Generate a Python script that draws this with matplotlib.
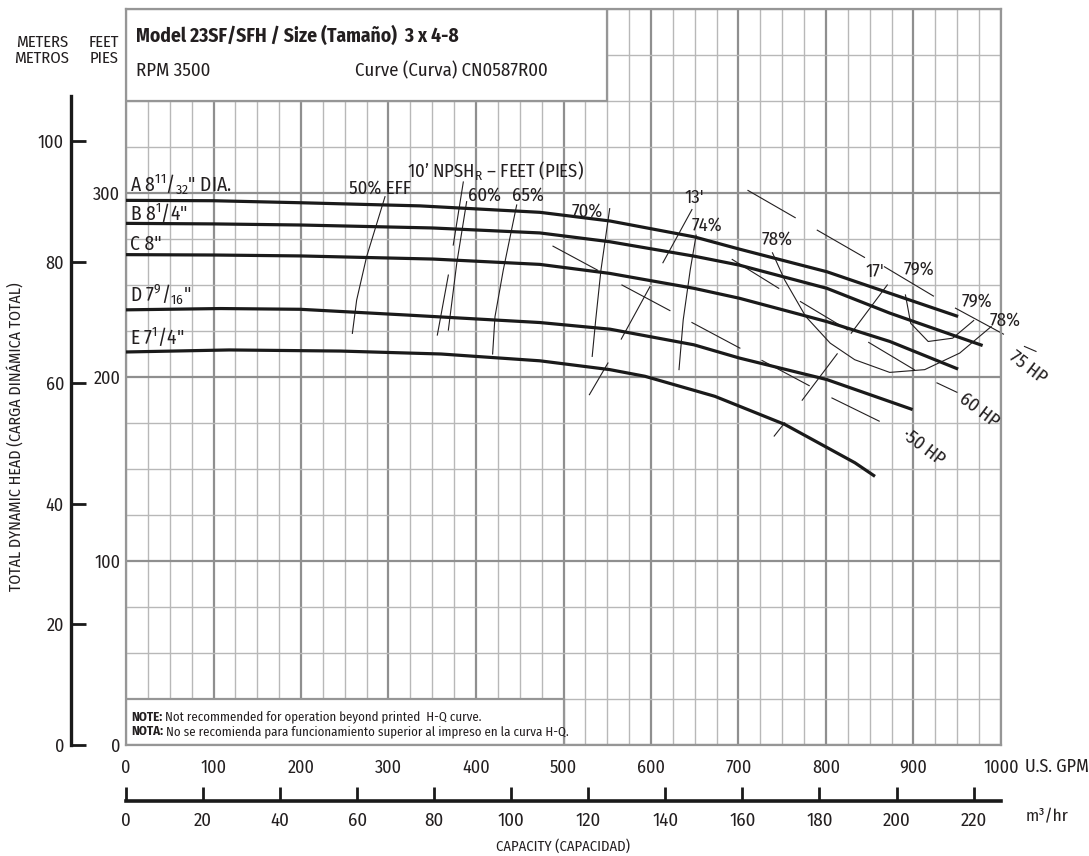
import matplotlib.pyplot as plt
import numpy as np
from matplotlib.patches import Rectangle

plt.rcParams['font.family'] = ['Fira Sans Condensed', 'DejaVu Sans']
plt.rcParams['font.stretch'] = 'condensed'
plt.rcParams['mathtext.fontset'] = 'custom'
plt.rcParams['mathtext.rm'] = 'Fira Sans Condensed'
plt.rcParams['mathtext.it'] = 'Fira Sans Condensed'
plt.rcParams['mathtext.bf'] = 'Fira Sans Condensed:bold'
plt.rcParams['mathtext.default'] = 'rm'

INK = '#231f20'

# --- impeller H-Q curves (GPM, feet) ---
gpm_A = [0, 100, 200, 336, 473, 553, 649, 701, 801, 873, 951]
ft_A = [296, 295.8, 294.7, 293, 289.5, 284.8, 276.2, 269.5, 257.2, 245.5, 232.9]
gpm_B = [0, 100, 200, 350, 473, 553, 649, 701, 801, 873, 979]
ft_B = [283.5, 283.2, 282.6, 281, 278.3, 273.5, 265.7, 260.8, 248.2, 234.7, 217.1]
gpm_C = [0, 100, 199, 351, 473, 553, 649, 701, 801, 873, 951]
ft_C = [266.5, 266.3, 265.8, 264.1, 261.2, 256.3, 248.2, 242.8, 230.1, 219.3, 204.3]
gpm_D = [0, 108, 199, 320, 473, 553, 649, 701, 801, 899]
ft_D = [236.5, 237.2, 236.8, 233.7, 229.6, 226, 217.5, 210.3, 198.6, 182.3]
gpm_E = [0, 118, 245, 360, 473, 553, 593, 673, 753, 833, 856]
ft_E = [213.6, 214.7, 214.1, 212.5, 208.8, 204, 200.4, 189.5, 174.2, 153.4, 146]

# --- efficiency lines ---
eff50_gpm = [296, 275, 263.6, 258.7]
eff50_ft = [298, 265.4, 241.8, 223.7]
eff60_gpm = [389.3, 378, 368.4]
eff60_ft = [295.3, 261.8, 225.5]
eff65_gpm = [446.5, 431.2, 421.7, 419]
eff65_ft = [293.5, 258.2, 232.8, 212.5]
eff70_gpm = [552.8, 542.8, 536.8, 532.8]
eff70_ft = [291.5, 258.1, 231, 211.2]
eff74_gpm = [651.6, 644.8, 636.8, 632]
eff74_ft = [277.1, 258.1, 231, 204]
eff78_gpm = [738.8, 752.8, 776.8, 804.8, 832.8, 872.8, 912.8, 952.8, 988.8]
eff78_ft = [267.5, 252.7, 232.9, 218.4, 209.4, 202.5, 204, 213, 227.4]
eff79_gpm = [890.8, 896.8, 916.8, 944.8, 968.8]
eff79_ft = [244.6, 229.2, 219.3, 221.1, 230.7]

# --- NPSHr lines (broken segments) ---
npsh10_gpm = [385.5, 374, np.nan, 368.4, 355.8]
npsh10_ft = [306, 271.7, np.nan, 255.4, 222.8]
npsh13_gpm = [646.8, 613.6, np.nan, 598.8, 566, np.nan, 550.8, 529.6]
npsh13_ft = [291, 262.1, np.nan, 249.1, 220.6, np.nan, 207.6, 190.4]
npsh17_gpm = [870, 828.8, np.nan, 812.8, 772.8, np.nan, 752.8, 740.8]
npsh17_ft = [250, 223.8, np.nan, 212.6, 187.4, np.nan, 175.1, 167.9]

# --- horsepower lines (dashed segments) ---
hp75_gpm = [710.8, 764.8, np.nan, 790, 844, np.nan, 866.8, 922.8, np.nan, 948, 1002.8, np.nan, 1026.8, 1040]
hp75_ft = [301.4, 286.6, np.nan, 279.8, 265, np.nan, 259.9, 244, np.nan, 237.4, 223.3, np.nan, 216.6, 213.9]
hp60_gpm = [692.8, 746, np.nan, 770.8, 824.8, np.nan, 848.8, 900.8, np.nan, 926.8, 949.6]
hp60_ft = [263.9, 248.2, np.nan, 241, 225.6, np.nan, 218.8, 204, np.nan, 196.8, 191.7]
hp50_gpm = [488, 538.8, np.nan, 566.8, 621.6, np.nan, 646.8, 701.6, np.nan, 726.8, 780.8, np.nan, 806.8, 860.8]
hp50_ft = [271.1, 258.1, np.nan, 250, 236.1, np.nan, 229.6, 215.7, np.nan, 209, 195.3, np.nan, 188.6, 176]

# --- axes ticks ---
gpm_ticks = list(range(0, 1001, 100))
ft_ticks = [0, 100, 200, 300, 400]
ft_labels = ['0', '100', '200', '300', '']
m_ticks = [0, 20, 40, 60, 80, 100]
m3_ticks = list(range(0, 221, 20))

W, H = 1089, 856


def px(x0, y0, x1, y1):
    return [x0 / W, 1 - y1 / H, (x1 - x0) / W, (y1 - y0) / H]


fig = plt.figure(figsize=(W / 100, H / 100), dpi=100)

# main grid
ax = fig.add_axes(px(126, 9, 1001, 745))
ax.set_xlim(0, 1000)
ax.set_ylim(0, 400)
ax.set_xticks(gpm_ticks)
ax.set_xticks(np.arange(0, 1001, 25), minor=True)
ax.set_yticks(ft_ticks)
ax.set_yticklabels(ft_labels)
ax.set_yticks(np.arange(0, 401, 25), minor=True)
ax.grid(which='minor', color='#b8b8b8', lw=1.0)
ax.grid(which='major', color='#8f8f8f', lw=1.6)
ax.set_axisbelow(True)
ax.tick_params(which='both', length=0, labelsize=13, labelcolor=INK)
ax.tick_params(axis='x', pad=10)
ax.tick_params(axis='y', pad=4)
for s in ax.spines.values():
    s.set_color('#969696')
    s.set_linewidth(1.6)

# header and note boxes
ax.add_patch(Rectangle((0, 350), 550, 50, facecolor='white', edgecolor='#969696', lw=1.6, zorder=1))
ax.add_patch(Rectangle((0, 0), 500, 25, facecolor='white', edgecolor='#969696', lw=1.6, zorder=1))
ax.text(11, 385.3, 'Model 23SF/SFH / Size (Tamaño)  3 x 4-8', fontsize=14, fontweight='bold',
        color=INK, va='center')
ax.text(11, 366.5, 'RPM 3500', fontsize=13.5, color=INK, va='center')
ax.text(262, 366.5, 'Curve (Curva) CN0587R00', fontsize=13.5, color=INK, va='center')
t1 = ax.text(5.5, 15.2, 'NOTE:', fontsize=9.3, fontweight='bold', color=INK, va='center')
ax.annotate(' Not recommended for operation beyond printed  H-Q curve.', xy=(1, 0), xycoords=t1,
            va='bottom', fontsize=9.3, color=INK)
t2 = ax.text(5.5, 7.4, 'NOTA:', fontsize=9.3, fontweight='bold', color=INK, va='center')
ax.annotate(' No se recomienda para funcionamiento superior al impreso en la curva H-Q.', xy=(1, 0),
            xycoords=t2, va='bottom', fontsize=9.3, color=INK)

# thin lines
thin = dict(color=INK, lw=0.8, zorder=2)
for gx, fy in [(eff50_gpm, eff50_ft), (eff60_gpm, eff60_ft), (eff65_gpm, eff65_ft),
               (eff70_gpm, eff70_ft), (eff74_gpm, eff74_ft), (eff78_gpm, eff78_ft),
               (eff79_gpm, eff79_ft), (npsh10_gpm, npsh10_ft), (npsh13_gpm, npsh13_ft),
               (npsh17_gpm, npsh17_ft), (hp75_gpm, hp75_ft), (hp60_gpm, hp60_ft),
               (hp50_gpm, hp50_ft)]:
    ax.plot(gx, fy, clip_on=False, **thin)

# H-Q curves
for gx, fy in [(gpm_A, ft_A), (gpm_B, ft_B), (gpm_C, ft_C), (gpm_D, ft_D), (gpm_E, ft_E)]:
    ax.plot(gx, fy, color='#1a1a1a', lw=2.3, zorder=3, solid_capstyle='butt')

lab = dict(fontsize=14, color=INK, va='baseline')
ax.text(5, 300.8, 'A 8$^{11}$/$_{32}$" DIA.', **lab)
ax.text(5, 285.3, 'B 8$^{1}$/4"', **lab)
ax.text(5, 269, 'C 8"', **lab)
ax.text(5, 241, 'D 7$^{9}$/$_{16}$"', **lab)
ax.text(5, 218, 'E 7$^{1}$/4"', **lab)

pl = dict(fontsize=13.5, color=INK, va='baseline')
ax.text(255, 299.5, '50% EFF', **pl)
ax.text(321, 308.7, '10’ NPSH$_R$ – FEET (PIES)', **pl)
ax.text(391, 296, '60%', **pl)
ax.text(441, 296, '65%', **pl)
ax.text(509, 287, '70%', **pl)
ax.text(638, 294.6, "13'", **pl)
ax.text(647, 279.3, '74%', **pl)
ax.text(726, 271.7, '78%', **pl)
ax.text(845, 254.3, "17'", **pl)
ax.text(889, 255.4, '79%', **pl)
ax.text(955, 238, '79%', **pl)
ax.text(987, 227.7, '78%', clip_on=False, **pl)

hp = dict(fontsize=13.5, color=INK, ha='center', va='center', rotation=-37, clip_on=False)
ax.text(1031, 205.4, '75 HP', **hp)
ax.text(975, 182, '60 HP', **hp)
ax.text(911, 162, '·50 HP', **hp)

# meters scale
axm = fig.add_axes(px(71, 9, 72, 745))
axm.set_ylim(0, 400 * 0.3048)
axm.set_yticks(m_ticks)
axm.get_xaxis().set_visible(False)
axm.patch.set_visible(False)
for k in ['top', 'right', 'bottom']:
    axm.spines[k].set_visible(False)
axm.spines['left'].set_linewidth(2.4)
axm.spines['left'].set_color('#1a1a1a')
axm.spines['left'].set_bounds(0, 107.5)
axm.tick_params(axis='y', direction='in', length=11, width=2, pad=5, labelsize=13,
                labelcolor=INK, color='#1a1a1a')

# m3/hr scale
axq = fig.add_axes(px(126, 790, 1001, 801))
axq.set_xlim(0, 1000 / 4.4029)
axq.set_xticks(m3_ticks)
axq.get_yaxis().set_visible(False)
axq.patch.set_visible(False)
for k in ['top', 'right', 'left']:
    axq.spines[k].set_visible(False)
axq.spines['bottom'].set_linewidth(2.6)
axq.spines['bottom'].set_color('#1a1a1a')
axq.tick_params(axis='x', direction='in', length=10, width=2, pad=8, labelsize=13.5,
                labelcolor=INK, color='#1a1a1a')
axq.set_xlabel('CAPACITY (CAPACIDAD)', fontsize=10.5, color=INK, labelpad=7)

fig.text(1025 / W, 1 - 767 / H, 'U.S. GPM', fontsize=13, color=INK, va='center')
fig.text(1026 / W, 1 - 817 / H, 'm³/hr', fontsize=12.5, color=INK, va='center')
fig.text(42 / W, 1 - 50 / H, 'METERS\nMETROS', fontsize=12, color=INK, ha='center', va='center',
         linespacing=1.0)
fig.text(104 / W, 1 - 50 / H, 'FEET\nPIES', fontsize=12, color=INK, ha='center', va='center',
         linespacing=1.0)
fig.text(16 / W, 1 - 437 / H, 'TOTAL DYNAMIC HEAD (CARGA DINÁMICA TOTAL)', fontsize=11.5,
         color=INK, rotation=90, ha='center', va='center')

fig.savefig('out.png', dpi=100)
